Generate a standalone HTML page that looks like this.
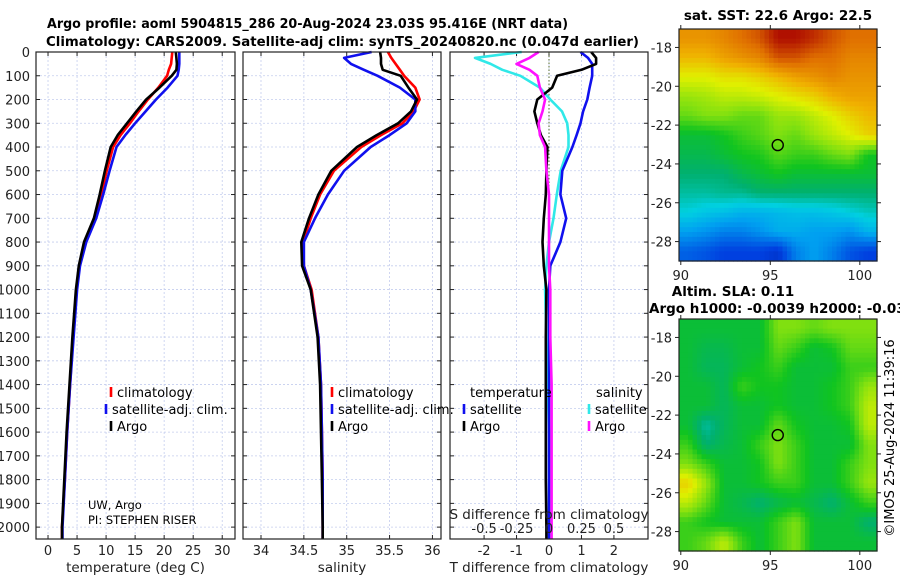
<!DOCTYPE html>
<html><head><meta charset="utf-8"><style>
body{margin:0;background:#fff;}
svg{display:block;font-family:"DejaVu Sans","Liberation Sans",sans-serif;}
</style></head><body>
<svg id="fig" width="900" height="580" viewBox="0 0 900 580">
<text x="47" y="28" font-size="13.5" font-weight="bold" textLength="521" lengthAdjust="spacingAndGlyphs">Argo profile: aoml 5904815_286 20-Aug-2024 23.03S 95.416E (NRT data)</text>
<text x="46" y="46" font-size="13.5" font-weight="bold" textLength="593" lengthAdjust="spacingAndGlyphs">Climatology: CARS2009. Satellite-adj clim: synTS_20240820.nc (0.047d earlier)</text>
<text x="778" y="20" font-size="13.5" font-weight="bold" text-anchor="middle">sat. SST: 22.6 Argo: 22.5</text>
<text x="733" y="296" font-size="13.5" font-weight="bold" text-anchor="middle">Altim. SLA: 0.11</text>
<text x="649" y="313" font-size="13.5" font-weight="bold">Argo h1000: -0.0039 h2000: -0.03</text>
<text transform="translate(894,438) rotate(-90)" font-size="13" text-anchor="middle">©IMOS 25-Aug-2024 11:39:16</text>
</svg>
<script>
const depths=[0,25,50,75,100,150,200,250,300,350,400,500,600,700,800,900,1000,1200,1400,1600,1800,2000,2050];
const tempArgo=[22.0,22.1,22.2,22.1,21.3,19.2,16.9,15.2,13.6,12.0,10.8,9.8,8.9,7.9,6.2,5.3,4.8,4.2,3.7,3.2,2.8,2.4,2.4];
const tempClim=[21.4,21.3,21.2,20.8,20.5,19.0,17.2,15.6,14.1,12.5,11.2,10.1,9.2,8.1,6.4,5.4,4.9,4.3,3.8,3.3,2.9,2.4,2.4];
const tempSat=[22.6,22.6,22.6,22.5,22.3,20.6,18.6,16.8,15.0,13.3,11.8,10.6,9.5,8.3,6.6,5.5,5.0,4.4,3.8,3.3,2.9,2.5,2.5];
const salArgo=[35.39,35.40,35.40,35.42,35.63,35.72,35.82,35.75,35.60,35.35,35.12,34.82,34.67,34.56,34.47,34.48,34.58,34.66,34.69,34.70,34.71,34.72,34.72];
const salClim=[35.48,35.52,35.57,35.62,35.67,35.80,35.85,35.78,35.65,35.40,35.17,34.85,34.69,34.58,34.49,34.50,34.59,34.67,34.70,34.71,34.72,34.72,34.72];
const salSat=[35.29,34.97,35.05,35.20,35.36,35.62,35.80,35.80,35.70,35.50,35.28,34.97,34.78,34.63,34.50,34.50,34.58,34.67,34.70,34.71,34.72,34.72,34.72];
const tdSat=[0.97,1.2,1.33,1.33,1.33,1.25,1.18,1.05,0.97,0.85,0.72,0.41,0.35,0.53,0.35,0.04,0.0,0.0,0.0,0.0,0.0,0.0,0.0];
const tdArgo=[1.3,1.45,1.45,1.0,0.25,0.1,-0.36,-0.45,-0.36,-0.25,-0.05,-0.08,-0.1,-0.16,-0.2,-0.16,-0.08,-0.1,-0.1,-0.1,-0.1,-0.08,-0.08];
const sdSat=[-0.21,-0.57,-0.45,-0.36,-0.22,-0.07,0.01,0.1,0.14,0.15,0.15,0.09,0.06,0.035,0.0,-0.02,-0.03,-0.02,-0.01,0,0,0,0];
const sdArgo=[-0.08,-0.15,-0.25,-0.15,-0.09,-0.07,-0.03,-0.05,-0.08,-0.07,-0.03,-0.02,0,0,0,0,0.01,0.01,0.02,0.02,0.02,0.02,0.02];
const depthTicks=[0,100,200,300,400,500,600,700,800,900,1000,1100,1200,1300,1400,1500,1600,1700,1800,1900,2000];
const tempTicks=[0,5,10,15,20,25,30];
const salTicks=[34,34.5,35,35.5,36];
const tdTicks=[-2,-1,0,1,2];
const sdTicks=[-0.5,-0.25,0,0.25,0.5];
const sdTickLabels=["-0.5","-0.25","0","0.25","0.5"];
const latTicks=[-18,-20,-22,-24,-26,-28];
const lonTicks=[90,95,100];
const argoLon=95.416, argoLat=-23.03;
const sstGrid=[
[0.8,0.8,0.82,0.85,0.88,0.95,0.95,0.92,0.88,0.85,0.85],
[0.75,0.75,0.78,0.8,0.82,0.88,0.88,0.85,0.85,0.82,0.82],
[0.68,0.68,0.7,0.7,0.72,0.75,0.78,0.8,0.82,0.8,0.8],
[0.62,0.63,0.65,0.65,0.66,0.68,0.7,0.72,0.76,0.78,0.78],
[0.58,0.6,0.6,0.58,0.58,0.62,0.62,0.65,0.68,0.72,0.75],
[0.5,0.5,0.52,0.55,0.57,0.6,0.58,0.62,0.65,0.68,0.72],
[0.48,0.48,0.5,0.52,0.53,0.57,0.55,0.55,0.58,0.6,0.52],
[0.45,0.45,0.45,0.48,0.5,0.52,0.5,0.5,0.5,0.5,0.5],
[0.42,0.42,0.43,0.43,0.45,0.45,0.45,0.45,0.45,0.45,0.45],
[0.38,0.36,0.35,0.33,0.33,0.34,0.35,0.35,0.36,0.38,0.4],
[0.3,0.28,0.25,0.25,0.28,0.32,0.32,0.3,0.3,0.28,0.33],
[0.2,0.18,0.15,0.15,0.15,0.12,0.25,0.3,0.25,0.18,0.15]];
const slaGrid=[
[0.5,0.5,0.5,0.5,0.5,0.6,0.6,0.58,0.6,0.6,0.6],
[0.5,0.48,0.48,0.5,0.5,0.58,0.55,0.5,0.52,0.58,0.58],
[0.5,0.47,0.47,0.5,0.52,0.55,0.5,0.5,0.5,0.55,0.55],
[0.5,0.5,0.47,0.55,0.52,0.52,0.5,0.5,0.52,0.55,0.62],
[0.5,0.5,0.47,0.5,0.5,0.52,0.5,0.5,0.52,0.55,0.65],
[0.5,0.42,0.47,0.5,0.5,0.58,0.52,0.5,0.5,0.52,0.65],
[0.55,0.45,0.48,0.5,0.55,0.6,0.55,0.5,0.5,0.5,0.6],
[0.6,0.55,0.5,0.5,0.52,0.6,0.55,0.5,0.5,0.55,0.6],
[0.72,0.62,0.5,0.5,0.52,0.55,0.55,0.5,0.5,0.55,0.62],
[0.65,0.58,0.5,0.48,0.45,0.48,0.5,0.48,0.45,0.5,0.55],
[0.55,0.52,0.5,0.5,0.5,0.55,0.6,0.5,0.5,0.5,0.45],
[0.55,0.58,0.65,0.55,0.5,0.55,0.6,0.5,0.5,0.5,0.5]];

const NS='http://www.w3.org/2000/svg';
const svg=document.getElementById('fig');
function mk(tag,attrs,parent){const e=document.createElementNS(NS,tag);for(const k in attrs)e.setAttribute(k,attrs[k]);(parent||svg).appendChild(e);return e;}
function txt(x,y,s,anchor,size,parent){const t=mk('text',{x:x,y:y,'font-size':size||13,'text-anchor':anchor||'start',fill:'#222'},parent);t.textContent=s;return t;}

const PT=52,PB=539,D0=0,D1=2050;
function yD(d){return PT+(d-D0)/(D1-D0)*(PB-PT);}
const panels=[
 {name:'temperature-panel',l:36,r:235,x0:-2.07,x1:32.2,ticks:tempTicks,labels:tempTicks.map(String),xlabel:'temperature (deg C)'},
 {name:'salinity-panel',l:243,r:441,x0:33.79,x1:36.1,ticks:salTicks,labels:salTicks.map(String),xlabel:'salinity'},
 {name:'difference-panel',l:450,r:648,x0:-3.05,x1:3.05,ticks:tdTicks,labels:tdTicks.map(String),xlabel:'T difference from climatology'}];
function xs(p,v){return p.l+(v-p.x0)/(p.x1-p.x0)*(p.r-p.l);}

panels.forEach((p,pi)=>{
 const g=mk('g',{});
 
 
 depthTicks.forEach(d=>{const y=yD(d);
  const gl=mk('line',{x1:p.l,x2:p.r,y1:y,y2:y,stroke:'#c4cdee','stroke-width':0.8,'stroke-dasharray':'2,2'},g);
  
  
  mk('line',{x1:p.l,x2:p.l+4,y1:y,y2:y,stroke:'#222'},g);
  mk('line',{x1:p.r,x2:p.r-4,y1:y,y2:y,stroke:'#222'},g);
  if(pi===0){const t=txt(30,y+5,String(d),'end',13,g);
   
   }
 });
 p.ticks.forEach((v,i)=>{const x=xs(p,v);
  const gl=mk('line',{x1:x,x2:x,y1:PT,y2:PB,stroke:'#c4cdee','stroke-width':0.8,'stroke-dasharray':'2,2'},g);
  
  
  mk('line',{x1:x,x2:x,y1:PB,y2:PB-4,stroke:'#222'},g);
  mk('line',{x1:x,x2:x,y1:PT,y2:PT+4,stroke:'#222'},g);
  const t=txt(x,555,p.labels[i],'middle',13,g);
  
  
 });
 const xl=txt((p.l+p.r)/2,572,p.xlabel,'middle',13.5,g);
 
 
 p.g=g;
});

function line(p,vals,color,name,scale){
 const pts=vals.map((v,i)=>xs(p,v*(scale||1)).toFixed(1)+','+yD(depths[i]).toFixed(1)).join(' ');
 const l=mk('polyline',{points:pts,fill:'none',stroke:color,'stroke-width':2.6,'stroke-linejoin':'round'},p.g);
 
 
}
const zl=mk('line',{x1:xs(panels[2],0),x2:xs(panels[2],0),y1:PT,y2:PB,stroke:'#556b2f','stroke-width':1,'stroke-dasharray':'1.5,2'},panels[2].g);



line(panels[0],tempClim,'#ff0000','temp-climatology-line');
line(panels[0],tempSat,'#1010ee','temp-satellite-line');
line(panels[0],tempArgo,'#000','temp-argo-line');
line(panels[1],salClim,'#ff0000','sal-climatology-line');
line(panels[1],salSat,'#1010ee','sal-satellite-line');
line(panels[1],salArgo,'#000','sal-argo-line');
line(panels[2],sdSat,'#30e8e8','sdiff-satellite-line',4);
line(panels[2],tdSat,'#1010ee','tdiff-satellite-line');
line(panels[2],tdArgo,'#000','tdiff-argo-line');
line(panels[2],sdArgo,'#ff10ff','sdiff-argo-line',4);

panels.forEach(p=>{mk('rect',{x:p.l,y:PT,width:p.r-p.l,height:PB-PT,fill:'none',stroke:'#222','stroke-width':1.2},p.g);});

const p2=panels[2];
const st=txt(549,519,'S difference from climatology','middle',13.5,p2.g);


sdTicks.forEach((v,i)=>{const x=xs(p2,v*4);
 const t=txt(x,533,sdTickLabels[i],'middle',13,p2.g);
 
 
});

function legend(x,y,color,label,p){
 const g=mk('g',{},p.g);
 
 
 mk('line',{x1:x,x2:x,y1:y-10,y2:y,stroke:color,'stroke-width':2.6},g);
 txt(x+6,y,label,'start',13,g).setAttribute('fill','#000');
}
legend(111,397,'#ff0000','climatology',panels[0]);
legend(106,414,'#1010ee','satellite-adj. clim.',panels[0]);
legend(111,431,'#000','Argo',panels[0]);
legend(332,397,'#ff0000','climatology',panels[1]);
legend(332,414,'#1010ee','satellite-adj. clim.',panels[1]);
legend(332,431,'#000','Argo',panels[1]);
const lt=txt(470,397,'temperature','start',13,p2.g);lt.setAttribute('fill','#000');


const ls=txt(596,397,'salinity','start',13,p2.g);ls.setAttribute('fill','#000');


legend(464,414,'#1010ee','satellite',p2);
legend(464,431,'#000','Argo',p2);
legend(589,414,'#30e8e8','satellite',p2);
legend(589,431,'#ff10ff','Argo',p2);
const ci=txt(88,509,'UW, Argo','start',11.5,panels[0].g);ci.setAttribute('fill','#000');


const cp=txt(88,524,'PI: STEPHEN RISER','start',11.5,panels[0].g);cp.setAttribute('fill','#000');



const stops=[[0,[0,16,138]],[0.15,[0,64,224]],[0.3,[0,160,240]],[0.38,[0,208,224]],[0.45,[0,176,112]],[0.52,[16,196,32]],[0.6,[128,224,16]],[0.68,[224,240,0]],[0.76,[240,176,0]],[0.85,[224,112,0]],[0.95,[176,16,0]],[1,[144,0,0]]];
function cmap(v){v=Math.max(0,Math.min(1,v));for(let i=1;i<stops.length;i++){if(v<=stops[i][0]){const a=stops[i-1],b=stops[i],t=(v-a[0])/(b[0]-a[0]);const c=a[1].map((q,k)=>Math.round(q+(b[1][k]-q)*t));return 'rgb('+c.join(',')+')';}}return 'rgb(144,0,0)';}

function map(name,top,grid){
 const L=679,R=877,B=top+232,lon0=89.9,lon1=100.96,lat0=-17.05,lat1=-29.0;
 const X=v=>L+(v-lon0)/(lon1-lon0)*(R-L), Y=v=>top+(v-lat0)/(lat1-lat0)*(B-top);
 const g=mk('g',{});
 
 
 const rows=grid.length, cols=grid[0].length, sub=4;
 for(let r=0;r<rows*sub;r++)for(let c=0;c<cols*sub;c++){
  const fr=(r+0.5)/sub-0.5, fc=(c+0.5)/sub-0.5;
  const r0=Math.max(0,Math.min(rows-1,Math.floor(fr))), r1=Math.min(rows-1,r0+1), c0=Math.max(0,Math.min(cols-1,Math.floor(fc))), c1=Math.min(cols-1,c0+1);
  const tr=Math.max(0,Math.min(1,fr-r0)), tc=Math.max(0,Math.min(1,fc-c0));
  const v=(grid[r0][c0]*(1-tc)+grid[r0][c1]*tc)*(1-tr)+(grid[r1][c0]*(1-tc)+grid[r1][c1]*tc)*tr;
  const x=L+c*(R-L)/(cols*sub), y=top+r*(B-top)/(rows*sub);
  const cell=mk('rect',{x:x.toFixed(2),y:y.toFixed(2),width:((R-L)/(cols*sub)+0.6).toFixed(2),height:((B-top)/(rows*sub)+0.6).toFixed(2),fill:cmap(v)},g);
  
  
 }
 mk('rect',{x:L,y:top,width:R-L,height:B-top,fill:'none',stroke:'#222','stroke-width':1.2},g);
 latTicks.forEach(v=>{const y=Y(v);
  mk('line',{x1:L-4,x2:L,y1:y,y2:y,stroke:'#222'},g);mk('line',{x1:R,x2:R+4,y1:y,y2:y,stroke:'#222'},g);
  const t=txt(672,y+5,String(v),'end',13,g);
  
  
 });
 lonTicks.forEach(v=>{const x=X(v);
  mk('line',{x1:x,x2:x,y1:B,y2:B+4,stroke:'#222'},g);mk('line',{x1:x,x2:x,y1:top,y2:top-4,stroke:'#222'},g);
  const t=txt(x,B+19,String(v),'middle',13,g);
  
  
 });
 const m=mk('circle',{cx:X(argoLon),cy:Y(argoLat),r:5.5,fill:'none',stroke:'#000','stroke-width':1.4},g);
 
 
}
map('sst-map',29,sstGrid);
map('sla-map',319,slaGrid);
Array.from(svg.querySelectorAll(':scope > text')).forEach(t=>svg.appendChild(t));
</script>
</body></html>
